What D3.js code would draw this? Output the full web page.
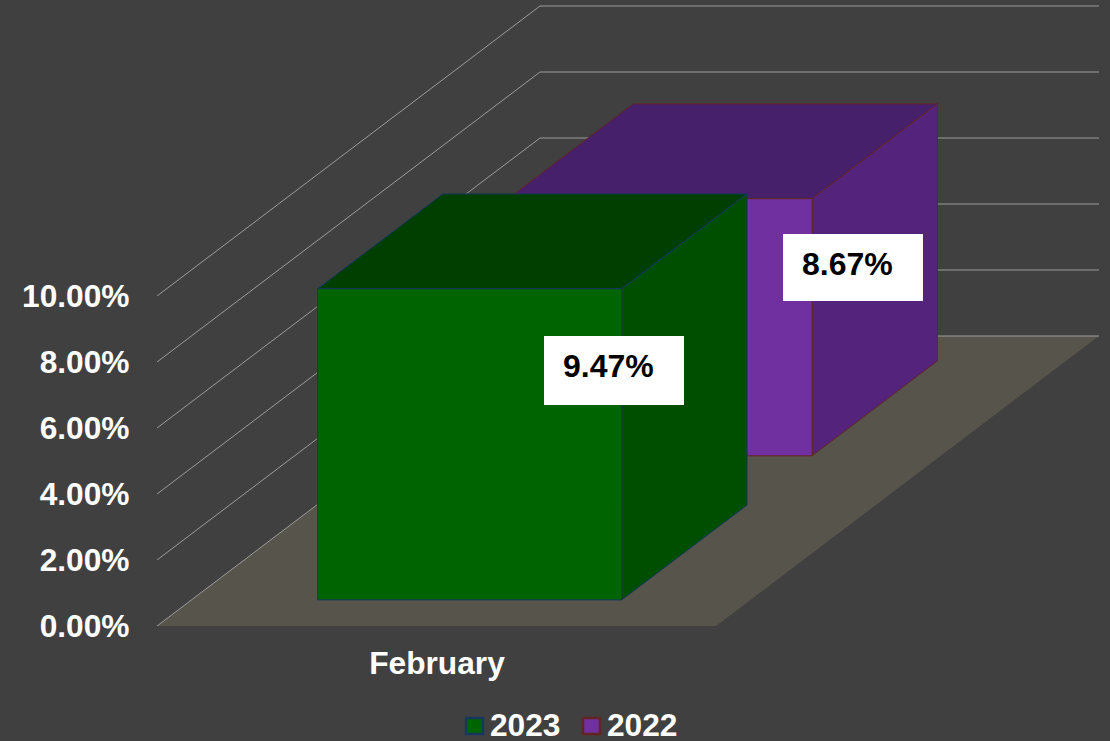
<!DOCTYPE html>
<html><head><meta charset="utf-8">
<script src="https://cdnjs.cloudflare.com/ajax/libs/d3/7.8.5/d3.min.js"></script>
<style>html,body{margin:0;padding:0;background:#404040;overflow:hidden}svg{display:block}
text{font-family:"Liberation Sans",Arial,sans-serif;font-weight:700}</style></head><body>
<svg id="c" width="1110" height="741"></svg>
<script>
const categories = ["February"];
const seriesNames = ["2022", "2023"];            // back to front
const drawnHeights = [7.79, 9.43];               // bar heights as measured on the picture's axis
const dataLabels = ["8.67%", "9.47%"];
const yTicks = [0, 2, 4, 6, 8, 10];
const depthStart = [0.587, 0.09];
const depthEnd = [0.914, 0.417];
const fronts = ["#7030a0", "#006400"];
const sides = ["#54247c", "#004f00"];
const tops = ["#47206b", "#003f00"];
const strokes = ["#632523", "#17375e"];

const svg = d3.select("#c");
const xS = d3.scaleLinear().domain([0, 1]).range([157, 716]);
const yS = d3.scaleLinear().domain([0, 10]).range([626, 296]);
const zX = d3.scaleLinear().domain([0, 1]).range([0, 383]);
const zY = d3.scaleLinear().domain([0, 1]).range([0, -290]);
const band = d3.scaleBand().domain(categories).range([0, 1]).paddingInner(0).paddingOuter(0.419).align(0.495);
const P = (u, v, z) => [xS(u) + zX(z), yS(v) + zY(z)];
const line = d3.line();
const poly = pts => line(pts) + "Z";

// floor
svg.append("path").attr("d", poly([P(0,0,0), P(1,0,0), P(1,0,1), P(0,0,1)])).attr("fill", "#57544c");

// walls' gridlines
svg.append("g").selectAll("path").data(yTicks).join("path")
  .attr("d", t => line([P(0,t,0), P(0,t,1), P(1,t,1)]))
  .attr("fill", "none").attr("stroke", "#9c9c9c").attr("stroke-width", 1);

// bars
const u0 = band(categories[0]), u1 = u0 + band.bandwidth();
const bars = svg.append("g").selectAll("g").data(seriesNames).join("g");
bars.each(function(_, i) {
  const g = d3.select(this), h = drawnHeights[i], a = depthStart[i], b = depthEnd[i];
  const faces = [
    [[P(u0,h,a), P(u1,h,a), P(u1,h,b), P(u0,h,b)], tops[i]],
    [[P(u1,0,a), P(u1,0,b), P(u1,h,b), P(u1,h,a)], sides[i]],
    [[P(u0,0,a), P(u1,0,a), P(u1,h,a), P(u0,h,a)], fronts[i]]
  ];
  faces.forEach(([pts, fill]) => g.append("path").attr("d", poly(pts))
    .attr("fill", fill).attr("stroke", strokes[i]).attr("stroke-width", 1).attr("stroke-linejoin", "round"));
});

// data labels
const labelBox = [[783, 234, 140, 67], [544, 336, 140, 69]];
const labelText = [[802, 275], [563, 377]];
dataLabels.forEach((t, i) => {
  const [x, y, w, hh] = labelBox[i];
  svg.append("rect").attr("x", x).attr("y", y).attr("width", w).attr("height", hh).attr("fill", "#fff");
  svg.append("text").attr("x", labelText[i][0]).attr("y", labelText[i][1]).attr("fill", "#000")
    .attr("font-size", 32).text(t);
});

// y axis
const ax = svg.append("g").attr("transform", "translate(129.5,0)")
  .call(d3.axisLeft(yS).tickValues(yTicks).tickSize(0).tickPadding(0).tickFormat(d => d.toFixed(2) + "%"));
ax.select(".domain").remove();
ax.selectAll("text").attr("fill", "#fff").attr("font-size", 31.7).attr("dy", "0.34em")
  .style("font-family", '"Liberation Sans",Arial,sans-serif').style("font-weight", 700);

// category
svg.append("text").attr("x", 437).attr("y", 673.5).attr("text-anchor", "middle").attr("fill", "#fff")
  .attr("font-size", 31.7).text(categories[0]);

// legend
const legendNames = ["2023", "2022"];
const legX = d3.scaleOrdinal().domain(legendNames).range([466, 583]);
legendNames.forEach(n => {
  const i = seriesNames.indexOf(n);
  svg.append("rect").attr("x", legX(n)).attr("y", 718).attr("width", 17).attr("height", 16)
    .attr("fill", fronts[i]).attr("stroke", strokes[i]).attr("stroke-width", 2.5);
  svg.append("text").attr("x", legX(n) + 24).attr("y", 736).attr("fill", "#fff").attr("font-size", 31.7).text(n);
});
</script></body></html>
